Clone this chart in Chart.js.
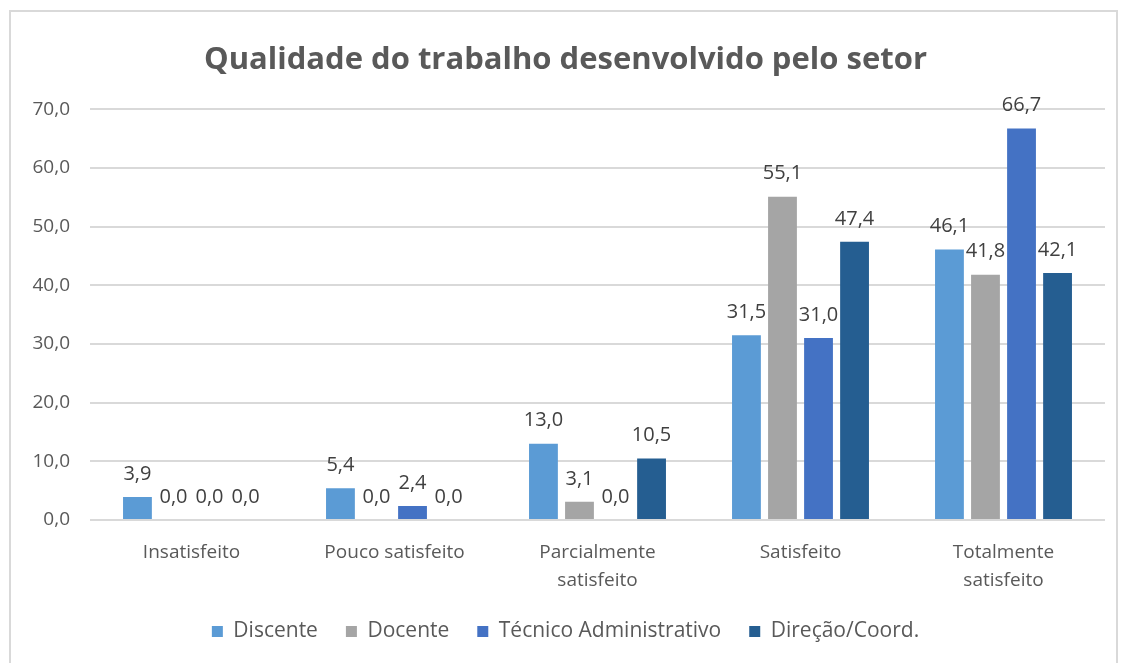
<!DOCTYPE html>
<html>
<head>
<meta charset="utf-8">
<script src="https://cdn.jsdelivr.net/npm/chart.js@4.4.0/dist/chart.umd.min.js"></script>
<style>
  html, body { margin: 0; padding: 0; background: #fff; }
  #frame {
    position: absolute; left: 9px; top: 10px; width: 1109px; height: 660px;
    border: 2px solid #d9d9d9; box-sizing: border-box;
  }
  #wrap { position: absolute; left: 0; top: 0; width: 1123px; height: 663px; }
</style>
</head>
<body>
<div id="frame"></div>
<div id="wrap"><canvas id="chart"></canvas></div>
<script>
const categories = ["Insatisfeito", "Pouco satisfeito", ["Parcialmente", "satisfeito"], "Satisfeito", ["Totalmente", "satisfeito"]];
const discente = [3.9, 5.4, 13.0, 31.5, 46.1];
const docente = [0.0, 0.0, 3.1, 55.1, 41.8];
const tecnico = [0.0, 2.4, 0.0, 31.0, 66.7];
const direcao = [0.0, 0.0, 10.5, 47.4, 42.1];
const seriesNames = ["Discente", "Docente", "Técnico Administrativo", "Direção/Coord."];
const seriesColors = ["#5b9bd5", "#a5a5a5", "#4472c4", "#255e91"];

const FONT = "'Open Sans', 'Noto Sans', sans-serif";
const fmt = (v) => v.toFixed(1).replace(".", ",");

const barLabels = {
  id: "barLabels",
  afterDatasetsDraw(chart) {
    const ctx = chart.ctx;
    ctx.save();
    ctx.font = "20px " + FONT;
    ctx.fillStyle = "#404040";
    ctx.textAlign = "center";
    ctx.textBaseline = "bottom";
    chart.data.datasets.forEach((ds, i) => {
      chart.getDatasetMeta(i).data.forEach((bar, j) => {
        ctx.fillText(fmt(ds.data[j]), bar.x, bar.y - 13);
      });
    });
    ctx.restore();
  },
};

new Chart(document.getElementById("chart"), {
  type: "bar",
  data: {
    labels: categories,
    datasets: [discente, docente, tecnico, direcao].map((d, i) => ({
      label: seriesNames[i],
      data: d,
      backgroundColor: seriesColors[i],
      categoryPercentage: 0.71,
      barPercentage: 0.8,
    })),
  },
  options: {
    responsive: true,
    maintainAspectRatio: false,
    animation: false,
    layout: { padding: { left: 26, right: 18, top: 0, bottom: 11 } },
    plugins: {
      title: {
        display: true,
        text: "Qualidade do trabalho desenvolvido pelo setor",
        color: "#595959",
        font: { family: FONT, size: 31, weight: "bold" },
        padding: { top: 42, bottom: 30 },
      },
      legend: {
        position: "bottom",
        labels: {
          color: "#595959",
          font: { family: FONT, size: 21 },
          boxWidth: 11,
          boxHeight: 11,
          padding: 28,
        },
      },
      tooltip: { enabled: false },
    },
    scales: {
      x: {
        grid: { display: false },
        border: { display: false },
        ticks: {
          color: "#595959",
          font: { family: FONT, size: 19, lineHeight: 1.45 },
          padding: 11,
          maxRotation: 0,
        },
        afterFit: (s) => { s.height = 73; },
      },
      y: {
        min: 0,
        max: 70,
        ticks: {
          stepSize: 10,
          color: "#595959",
          font: { family: FONT, size: 19 },
          padding: 20,
          callback: (v) => fmt(v),
        },
        grid: { color: "#d9d9d9", lineWidth: 2, drawTicks: false },
        border: { display: false },
        afterFit: (s) => { s.width = 64; },
      },
    },
  },
  plugins: [barLabels],
});
</script>
</body>
</html>
